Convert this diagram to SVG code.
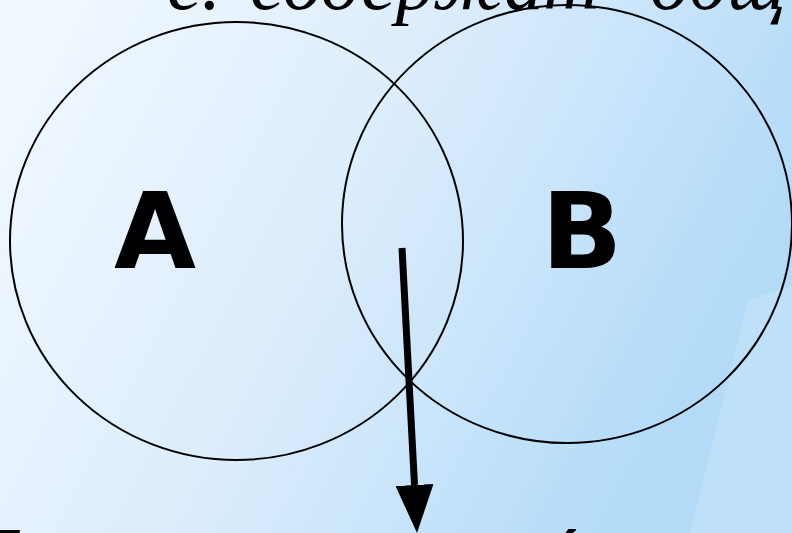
<svg xmlns="http://www.w3.org/2000/svg" width="792" height="533" viewBox="0 0 792 533">
<defs>
<linearGradient id="bg" x1="0" y1="0" x2="1" y2="0.35">
<stop offset="0" stop-color="#f3f9ff"/>
<stop offset="0.5" stop-color="#dcedfc"/>
<stop offset="1" stop-color="#b3dbf8"/>
</linearGradient>
<marker id="arrow" markerWidth="48" markerHeight="38" refX="0" refY="0" orient="auto" markerUnits="userSpaceOnUse" viewBox="0 -19 48 38">
<path d="M 0 -19 L 48 0 L 0 19 Z" fill="#000"/>
</marker>
<style>
.set{fill:none;stroke:#000;stroke-width:2}
.lbl{font-family:"DejaVu Sans",sans-serif;font-weight:bold;font-size:106px;fill:#000;text-anchor:middle}
.top{font-family:"Liberation Serif",serif;font-style:italic;font-size:78px;fill:#000}
.bot{font-family:"Liberation Sans",sans-serif;font-style:italic;font-weight:bold;font-size:60px;fill:#000}
</style>
</defs>
<rect width="792" height="533" fill="url(#bg)"/>
<polygon points="748,300 792,286 792,533 690,533" fill="#ffffff" opacity="0.15"/>
<text class="top"><tspan x="167" y="9">е.</tspan><tspan x="250" y="9">содержат</tspan><tspan x="650" y="9">общ</tspan></text>
<g id="setA">
<ellipse class="set" cx="236.5" cy="241" rx="226.5" ry="219"/>
<text class="lbl" x="155" y="268">A</text>
</g>
<g id="setB">
<ellipse class="set" cx="567" cy="224" rx="225" ry="219"/>
<text class="lbl" x="582" y="268">B</text>
</g>
<g id="connectors">
<line x1="402" y1="248" x2="414.5" y2="485" stroke="#000" stroke-width="7" marker-end="url(#arrow)"/>
</g>
<text class="bot"><tspan x="-20" y="571">Б</tspan><tspan x="544" y="571">о́</tspan></text>
</svg>
